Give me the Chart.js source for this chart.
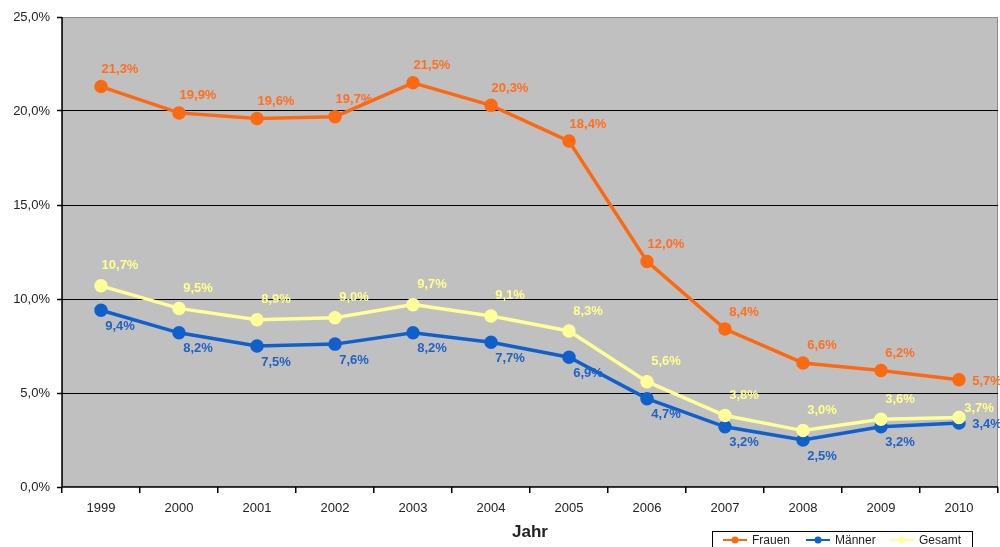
<!DOCTYPE html>
<html><head><meta charset="utf-8">
<script src="https://cdn.jsdelivr.net/npm/chart.js@4/dist/chart.umd.min.js"></script>
<style>html,body{margin:0;padding:0;background:#fff;}#wrap{width:1000px;height:547px;}</style>
</head><body><div id="wrap"><canvas id="c" width="1000" height="547"></canvas></div>
<script>
const years = ['1999','2000','2001','2002','2003','2004','2005','2006','2007','2008','2009','2010'];
const frauen = [21.3,19.9,19.6,19.7,21.5,20.3,18.4,12.0,8.4,6.6,6.2,5.7];
const maenner = [9.4,8.2,7.5,7.6,8.2,7.7,6.9,4.7,3.2,2.5,3.2,3.4];
const gesamt = [10.7,9.5,8.9,9.0,9.7,9.1,8.3,5.6,3.8,3.0,3.6,3.7];
const seriesNames = ['Frauen','Männer','Gesamt'];
const yTicks = [0,5,10,15,20,25];

const ORANGE = '#fb6a12', BLUE = '#1060cc', YELLOW = '#ffff99';
const LBL = ['#ff6f1f', '#1f62c6', '#ffff8a'];
const FONT = '"Liberation Sans", Arial, sans-serif';
const fmt = v => v.toFixed(1).replace('.', ',') + '%';

const labelPlugin = {
  id: 'lbls',
  afterDatasetsDraw(chart) {
    const ctx = chart.ctx;
    ctx.save();
    ctx.font = 'bold 13px ' + FONT;
    ctx.textAlign = 'center';
    ctx.textBaseline = 'middle';
    const n = years.length;
    chart.data.datasets.forEach((ds, di) => {
      const meta = chart.getDatasetMeta(di);
      meta.data.forEach((pt, i) => {
        let dx = 19, dy = di === 0 ? -17 : (di === 1 ? 16 : -20);
        if (i === n - 1) {
          if (di === 0) { dx = 28; dy = 2; }
          if (di === 1) { dx = 28; dy = 1; }
          if (di === 2) { dx = 20; dy = -9; }
        }
        ctx.fillStyle = LBL[di];
        ctx.fillText(fmt(ds.data[i]), pt.x + dx, pt.y + dy);
      });
    });
    ctx.restore();
  },
  afterDraw(chart) {
    const ctx = chart.ctx;
    const a = chart.chartArea;
    ctx.save();
    ctx.strokeStyle = '#000'; ctx.lineWidth = 1.5;
    ctx.beginPath(); ctx.moveTo(a.left, a.top); ctx.lineTo(a.left, a.bottom); ctx.lineTo(a.right, a.bottom); ctx.stroke();
    // legend box
    const bx = 712.5, by = 531.5, bw = 260, bh = 30;
    ctx.fillStyle = '#fff'; ctx.fillRect(bx, by, bw, bh);
    ctx.strokeStyle = '#000'; ctx.lineWidth = 1; ctx.strokeRect(bx, by, bw, bh);
    const cols = [ORANGE, BLUE, YELLOW];
    const xs = [723, 806, 890];
    ctx.font = '12px ' + FONT;
    ctx.textBaseline = 'middle'; ctx.textAlign = 'left';
    seriesNames.forEach((nm, i) => {
      const x = xs[i], y = 540;
      ctx.strokeStyle = cols[i]; ctx.lineWidth = 2;
      ctx.beginPath(); ctx.moveTo(x, y); ctx.lineTo(x + 24, y); ctx.stroke();
      ctx.fillStyle = cols[i];
      ctx.beginPath(); ctx.arc(x + 12, y, 3.5, 0, Math.PI * 2); ctx.fill();
      ctx.fillStyle = '#222';
      ctx.fillText(nm, x + 29, y + 1);
    });
    ctx.restore();
  }
};

const bgPlugin = {
  id: 'bg',
  beforeDraw(chart) {
    const a = chart.chartArea, ctx = chart.ctx;
    ctx.save();
    ctx.fillStyle = '#c0c0c0';
    ctx.fillRect(a.left, a.top, a.right - a.left, a.bottom - a.top);
    ctx.strokeStyle = '#8a8a8a'; ctx.lineWidth = 1;
    ctx.strokeRect(a.left + 0.5, a.top + 0.5, a.right - a.left - 1, a.bottom - a.top - 1);
    ctx.restore();
  }
};

const mk = (label, data, color, order) => ({
  label, data, borderColor: color, backgroundColor: color,
  pointBackgroundColor: color, pointBorderColor: color, order,
  borderWidth: 3.5, pointRadius: 5, pointHoverRadius: 5, tension: 0, clip: false
});

new Chart(document.getElementById('c'), {
  type: 'line',
  data: { labels: years, datasets: [mk('Frauen', frauen, ORANGE, 0), mk('Männer', maenner, BLUE, 2), mk('Gesamt', gesamt, YELLOW, 1)] },
  options: {
    responsive: false, animation: false, events: [],
    layout: { autoPadding: false, padding: { top: 17, right: 2, left: 0, bottom: 0 } },
    plugins: { legend: { display: false }, tooltip: { enabled: false } },
    scales: {
      x: {
        offset: true,
        grid: { display: true, drawOnChartArea: false, drawTicks: true, tickLength: 6, color: '#000', offset: true, lineWidth: 1.5 },
        border: { display: false },
        ticks: { color: '#222', font: { size: 13, family: FONT }, padding: 8, maxRotation: 0 },
        title: { display: true, text: 'Jahr', color: '#222', font: { size: 17, weight: 'bold', family: FONT }, padding: { top: 0, bottom: 4 } },
        afterFit(s) { s.height = 60; s.paddingLeft = 0; s.paddingRight = 0; }
      },
      y: {
        min: 0, max: 25,
        afterBuildTicks(s) { s.ticks = yTicks.map(v => ({ value: v })); },
        grid: { color: ctx => (ctx.tick && (ctx.tick.value === 0 || ctx.tick.value === 25)) ? 'rgba(0,0,0,0)' : '#000', lineWidth: 1, drawTicks: true, tickLength: 5, tickColor: '#000', tickWidth: 1.5 },
        border: { display: false },
        ticks: { color: '#222', font: { size: 13, family: FONT }, padding: 7, callback: v => fmt(v) },
        afterFit(s) { s.width = 62; s.paddingTop = 0; s.paddingBottom = 0; }
      }
    }
  },
  plugins: [bgPlugin, labelPlugin]
});
</script></body></html>
